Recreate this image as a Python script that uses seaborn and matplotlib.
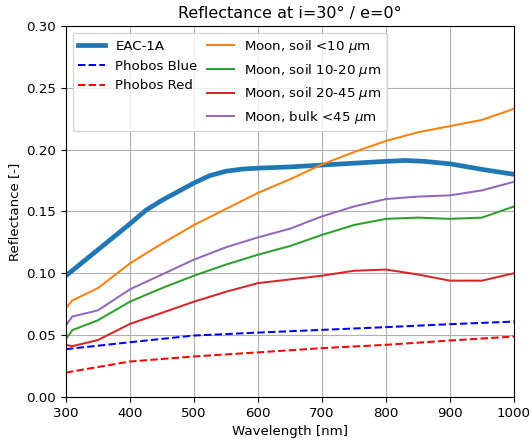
import matplotlib
matplotlib.use("Agg")
import matplotlib.pyplot as plt
import seaborn as sns
import numpy as np
from matplotlib.ticker import FormatStrFormatter

# Wavelength grid [nm]
nm = [300, 310, 350, 400, 450, 500, 550, 600, 650, 700, 750, 800, 850, 900, 950, 1000]
nm_eac = [300, 350, 400, 425, 450, 475, 500, 525, 550, 575, 600, 650, 700, 750, 800,
          830, 860, 900, 950, 1000]
eac_1a = [0.098, 0.119, 0.140, 0.151, 0.159, 0.166, 0.173, 0.179, 0.1825, 0.1842,
          0.185, 0.186, 0.1875, 0.189, 0.1905, 0.1912, 0.1905, 0.1885, 0.184, 0.180]
moon_lt10 = [0.072, 0.078, 0.088, 0.108, 0.124, 0.139, 0.152, 0.165, 0.176, 0.188,
             0.198, 0.207, 0.214, 0.219, 0.224, 0.233]
moon_10_20 = [0.047, 0.054, 0.062, 0.077, 0.088, 0.098, 0.107, 0.115, 0.122, 0.131,
              0.139, 0.144, 0.145, 0.144, 0.145, 0.154]
moon_20_45 = [0.042, 0.041, 0.046, 0.059, 0.068, 0.077, 0.085, 0.092, 0.095, 0.098,
              0.102, 0.103, 0.099, 0.094, 0.094, 0.100]
moon_bulk = [0.058, 0.065, 0.070, 0.087, 0.099, 0.111, 0.121, 0.129, 0.136, 0.146,
             0.154, 0.160, 0.162, 0.163, 0.167, 0.174]

nm_phobos = [300, 400, 500, 600, 700, 800, 900, 1000]
phobos_blue = [0.0386, 0.0442, 0.0496, 0.0520, 0.0542, 0.0564, 0.0588, 0.0609]
phobos_red = [0.0197, 0.0286, 0.0327, 0.0360, 0.0394, 0.0421, 0.0456, 0.0488]

plt.rcParams.update({"font.size": 9.6, "axes.titlesize": 11.5,
                     "axes.labelsize": 9.6, "xtick.labelsize": 9.6,
                     "ytick.labelsize": 9.6, "legend.fontsize": 9.6})

fig = plt.figure(figsize=(5.32, 4.40), dpi=100)
ax = fig.add_axes([0.124, 0.098, 0.842, 0.843])

lw = 1.45
sns.lineplot(x=nm_eac, y=eac_1a, ax=ax, color="C0", linewidth=3.4, label="EAC-1A")
sns.lineplot(x=nm_phobos, y=phobos_blue, ax=ax, color="blue", linewidth=lw,
             linestyle="--", label="Phobos Blue")
sns.lineplot(x=nm_phobos, y=phobos_red, ax=ax, color="red", linewidth=lw,
             linestyle="--", label="Phobos Red")
sns.lineplot(x=nm, y=moon_lt10, ax=ax, color="C1", linewidth=lw, label=r"Moon, soil <10 $\mu$m")
sns.lineplot(x=nm, y=moon_10_20, ax=ax, color="C2", linewidth=lw, label=r"Moon, soil 10-20 $\mu$m")
sns.lineplot(x=nm, y=moon_20_45, ax=ax, color="C3", linewidth=lw, label=r"Moon, soil 20-45 $\mu$m")
sns.lineplot(x=nm, y=moon_bulk, ax=ax, color="C4", linewidth=lw, label=r"Moon, bulk <45 $\mu$m")

handles, labels = ax.get_legend_handles_labels()
blank = plt.Line2D([], [], alpha=0)
handles = handles[:3] + [blank] + handles[3:]
labels = labels[:3] + [""] + labels[3:]
ax.legend(handles, labels, ncol=2, loc="upper left",
          handlelength=2.0, columnspacing=0.7, borderaxespad=0.5)

ax.set_xlim(300, 1000)
ax.set_ylim(0, 0.30)
ax.set_xticks(np.arange(300, 1001, 100))
ax.set_yticks(np.arange(0, 0.301, 0.05))
ax.yaxis.set_major_formatter(FormatStrFormatter("%.2f"))
ax.grid(True, color="#b0b0b0", linewidth=0.8)
ax.set_axisbelow(True)
ax.set_xlabel("Wavelength [nm]")
ax.set_ylabel("Reflectance [-]")
ax.set_title("Reflectance at i=30° / e=0°")

fig.savefig("out.png", dpi=100)
